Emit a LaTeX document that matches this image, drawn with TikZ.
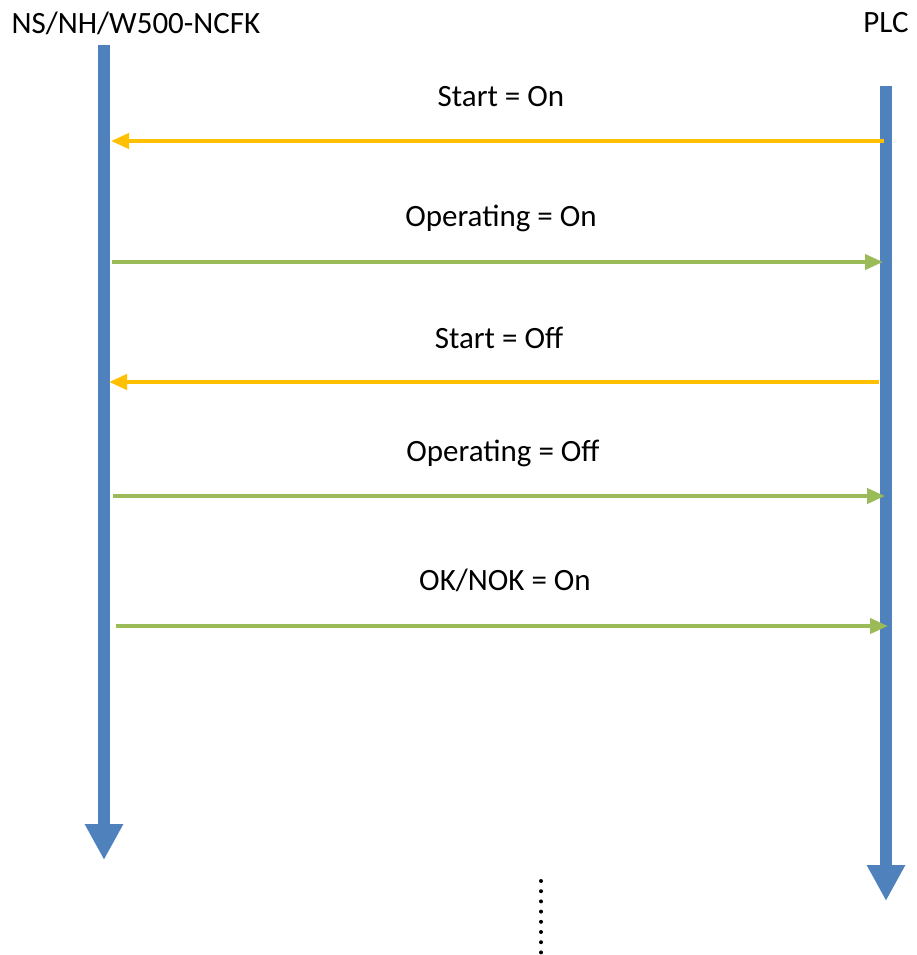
\documentclass[tikz,border=0pt]{standalone}
\usepackage{fontspec}
\setmainfont{Carlito}
\usetikzlibrary{arrows.meta}
\definecolor{lineblue}{HTML}{4F81BD}
\definecolor{reqyellow}{HTML}{FFC000}
\definecolor{ackgreen}{HTML}{9BBB59}

\begin{document}
\begin{tikzpicture}[
    x=1pt, y=-1pt,
    % Linhas de vida (NS e PLC)
    lifeline/.style={
        draw=lineblue, line width=12pt,
        -{Triangle[length=36pt, width=36pt]}
    },
    % Mensagens do PLC
    plcmsg/.style={
        draw=reqyellow, line width=4pt,
        -{Triangle[length=18pt, width=15pt]}
    },
    % Mensagens do NS
    nsmsg/.style={
        draw=ackgreen, line width=4pt,
        -{Triangle[length=18pt, width=15pt]}
    },
    rotulo/.style={font=\fontsize{31}{36}\selectfont, inner sep=0pt}
]
\useasboundingbox (0,0) rectangle (916,955);

% ---- CABEÇALHOS ----
\node[rotulo] (ns)  at (136, 23) {NS/NH/W500-NCFK};
\node[rotulo] (plc) at (886, 23) {PLC};

% ---- LINHAS DE VIDA ----
\coordinate (ns_top)  at (104, 45);
\coordinate (ns_end)  at (104, 860);
\coordinate (plc_top) at (886, 86);
\coordinate (plc_end) at (886, 901);

\draw[lifeline] (ns_top)  -- (ns_end);
\draw[lifeline] (plc_top) -- (plc_end);

% ---- MENSAGENS ----
\node[rotulo] (m1) at (501, 97)  {Start = On};
\node[rotulo] (m2) at (501, 218) {Operating = On};
\node[rotulo] (m3) at (499, 338) {Start = Off};
\node[rotulo] (m4) at (503, 453) {Operating = Off};
\node[rotulo] (m5) at (505, 580) {OK/NOK = On};

\coordinate (p1) at (884, 141);  \coordinate (n1) at (111, 141);
\coordinate (n2) at (112, 262);  \coordinate (p2) at (883, 262);
\coordinate (p3) at (879, 382);  \coordinate (n3) at (109, 382);
\coordinate (n4) at (113, 496);  \coordinate (p4) at (885, 496);
\coordinate (n5) at (116, 626);  \coordinate (p5) at (888, 626);

\draw[plcmsg] (p1) -- (n1);
\draw[nsmsg]  (n2) -- (p2);
\draw[plcmsg] (p3) -- (n3);
\draw[nsmsg]  (n4) -- (p4);
\draw[nsmsg]  (n5) -- (p5);

% ---- CONTINUAÇÃO ----
\coordinate (cont_top) at (541, 881);
\coordinate (cont_end) at (541, 953);
\draw[line width=4pt, line cap=round, dash pattern=on 0pt off 10.2pt]
    (cont_top) -- (cont_end);

\end{tikzpicture}
\end{document}
